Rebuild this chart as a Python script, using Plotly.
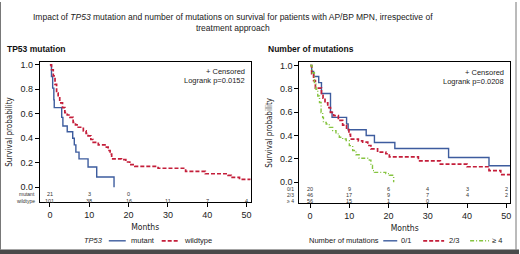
import plotly.graph_objects as go

# ---------------- data ----------------
# Left panel: TP53 mutation
mut_t = [0, 0.4, 0.7, 1.0, 1.1, 3.0, 3.3, 4.4, 5.8, 6.2, 6.6, 7.4, 9.7, 11.9, 16.3]
mut_s = [1.0, 0.905, 0.81, 0.714, 0.65, 0.571, 0.50, 0.453, 0.40, 0.346, 0.287, 0.232, 0.165, 0.084, 0.0]

wt_t = [0, 0.4, 0.85, 1.3, 1.7, 2.1, 2.5, 3.2, 3.8, 4.4, 5.1, 5.9, 6.5, 7.2, 8.5, 9.2, 9.7,
        10.4, 11.0, 12.3, 14.0, 14.8, 15.3, 15.7, 18.2, 19.3, 20.3, 21.6, 27.5, 34.5, 39.5,
        45.3, 46.1, 48.2, 51.0]
wt_s = [1.0, 0.96, 0.91, 0.84, 0.77, 0.73, 0.69, 0.65, 0.61, 0.59, 0.57, 0.53, 0.51, 0.49, 0.46,
        0.44, 0.42, 0.39, 0.367, 0.346, 0.327, 0.30, 0.27, 0.232, 0.225, 0.206, 0.184, 0.17,
        0.155, 0.13, 0.11, 0.097, 0.08, 0.065, 0.06]

# Right panel: number of mutations
m01_t = [0, 0.4, 0.9, 2.2, 2.9, 5.2, 5.6, 9.3, 9.7, 14.3, 16.4, 21.6, 35.3, 45.6, 51.0]
m01_s = [1.0, 0.95, 0.906, 0.853, 0.76, 0.60, 0.556, 0.50, 0.45, 0.40, 0.34, 0.289, 0.212, 0.142, 0.142]

m23_t = [0, 0.4, 0.9, 1.35, 2.9, 3.3, 3.8, 4.5, 5.2, 6.0, 7.2, 8.3, 9.3, 9.9, 10.3, 12.3, 13.4,
         14.7, 15.5, 17.2, 19.3, 20.2, 27.6, 33.2, 40.0, 45.6, 48.6, 51.0]
m23_s = [1.0, 0.93, 0.87, 0.807, 0.76, 0.72, 0.68, 0.64, 0.598, 0.57, 0.53, 0.49, 0.45, 0.41,
         0.37, 0.355, 0.343, 0.315, 0.286, 0.258, 0.244, 0.218, 0.184, 0.156, 0.133, 0.10, 0.065, 0.065]

m4_t = [0, 0.5, 1.1, 1.5, 1.95, 2.4, 2.8, 3.2, 3.4, 4.1, 4.9, 5.75, 6.6, 7.45, 8.3, 9.2, 10.0,
        10.85, 11.7, 12.5, 15.1, 15.5, 15.9, 16.4, 19.3, 20.2, 21.3]
m4_s = [1.0, 0.938, 0.853, 0.796, 0.739, 0.683, 0.598, 0.556, 0.513, 0.499, 0.47, 0.442, 0.414,
        0.386, 0.371, 0.357, 0.314, 0.272, 0.235, 0.205, 0.19, 0.144, 0.10, 0.085, 0.074, 0.06, 0.0]

risk_months = [0, 10, 20, 30, 40, 50]
risk_left_labels = ["mutant", "wildtype"]
risk_left = [["21", "3", "0", "", "", ""],
             ["101", "38", "16", "11", "7", "4"]]
risk_right_labels = ["0/1", "2/3", "\u2265 4"]
risk_right = [["20", "9", "6", "4", "3", "2"],
              ["46", "17", "9", "7", "4", "2"],
              ["56", "15", "1", "0", "", ""]]

y_ticks = [0.0, 0.2, 0.4, 0.6, 0.8, 1.0]
x_ticks = [0, 10, 20, 30, 40, 50]

# ---------------- styling ----------------
BLUE = "#3d5c9e"
RED = "#c41e3a"
GREEN = "#86c440"
RED_DASH = "4px,2px"
GREEN_DASH = "4px,2px,1px,2px"
FONT = "Liberation Sans, Arial, sans-serif"
NARROW = "Liberation Sans Narrow, DejaVu Sans Condensed, Arial Narrow, sans-serif"
W, H = 520, 254


def px_x(p):
    return p / W


def px_y(p):
    return 1 - p / H


series = [
    dict(t=mut_t, s=mut_s, name="mutant", color=BLUE, dash="solid", width=1.4, ax=("x", "y")),
    dict(t=wt_t, s=wt_s, name="wildtype", color=RED, dash=RED_DASH, width=1.7, ax=("x", "y")),
    dict(t=m01_t, s=m01_s, name="0/1", color=BLUE, dash="solid", width=1.4, ax=("x2", "y2")),
    dict(t=m23_t, s=m23_s, name="2/3", color=RED, dash=RED_DASH, width=1.7, ax=("x2", "y2")),
    dict(t=m4_t, s=m4_s, name="\u2265 4", color=GREEN, dash=GREEN_DASH, width=1.4, ax=("x2", "y2")),
]

fig = go.Figure()
for sr in series:
    fig.add_trace(go.Scatter(x=sr["t"], y=sr["s"], mode="lines", name=sr["name"],
                             line=dict(color=sr["color"], width=sr["width"], shape="hv", dash=sr["dash"]),
                             xaxis=sr["ax"][0], yaxis=sr["ax"][1], showlegend=False, hoverinfo="skip"))

axis_common = dict(showline=True, linecolor="black", linewidth=1, mirror=True, ticks="outside",
                   ticklen=4, tickwidth=1, tickcolor="black", showgrid=False, zeroline=False,
                   tickfont=dict(family=FONT, size=9, color="#222"))

xcommon = dict(axis_common, tickvals=x_ticks,
               title=dict(text="Months", font=dict(family=NARROW, size=8.5, color="#222"), standoff=4))
ycommon = dict(axis_common, tickvals=y_ticks, tickformat=".1f",
               title=dict(text="Survival probability", font=dict(family=NARROW, size=8, color="#222"),
                          standoff=6))

fig.update_layout(
    width=W, height=H, autosize=False,
    margin=dict(l=0, r=0, t=0, b=0),
    paper_bgcolor="white", plot_bgcolor="white",
    font=dict(family=FONT, size=8, color="#222"),
    xaxis=dict(xcommon, domain=[px_x(40), px_x(251)], range=[-2.54, 51.0], anchor="y"),
    yaxis=dict(ycommon, domain=[px_y(202), px_y(60)], range=[-0.124, 1.027], anchor="x"),
    xaxis2=dict(xcommon, domain=[px_x(300), px_x(511)], range=[-2.72, 50.96], anchor="y2"),
    yaxis2=dict(ycommon, domain=[px_y(203), px_y(60.7)], range=[-0.181, 1.028], anchor="x2"),
    showlegend=False,
    hovermode=False,
)

ann = []
ann.append(dict(xref="paper", yref="paper", x=px_x(233), y=px_y(21), xanchor="center", yanchor="middle",
                text="Impact of <i>TP53</i> mutation and number of mutations on survival for patients with AP/BP MPN, irrespective of<br>treatment approach",
                showarrow=False, font=dict(family=FONT, size=8.5, color="#222")))
ann.append(dict(xref="paper", yref="paper", x=px_x(5), y=px_y(47), xanchor="left", yanchor="middle",
                text="<b>TP53 mutation</b>", showarrow=False, font=dict(family=FONT, size=8.5, color="#111")))
ann.append(dict(xref="paper", yref="paper", x=px_x(267), y=px_y(47), xanchor="left", yanchor="middle",
                text="<b>Number of mutations</b>", showarrow=False, font=dict(family=FONT, size=8.5, color="#111")))

for xr, yr, pval in [("x domain", "y domain", "0.0152"), ("x2 domain", "y2 domain", "0.0208")]:
    ann.append(dict(xref=xr, yref=yr, x=0.981, y=0.93, xanchor="right", yanchor="middle",
                    text="+ Censored", showarrow=False, font=dict(family=FONT, size=7.5, color="#222")))
    ann.append(dict(xref=xr, yref=yr, x=0.981, y=0.865, xanchor="right", yanchor="middle",
                    text="Logrank p=" + pval, showarrow=False, font=dict(family=FONT, size=7.5, color="#222")))

left_rows_y = [-0.053, -0.112]
for lab, row, yv in zip(risk_left_labels, risk_left, left_rows_y):
    ann.append(dict(xref="x domain", yref="y", x=-0.014, y=yv, xanchor="right", yanchor="middle",
                    text=lab, showarrow=False, font=dict(family=FONT, size=5, color="#333")))
    for m, v in zip(risk_months, row):
        if v:
            ann.append(dict(xref="x", yref="y", x=m, y=yv, xanchor="center", yanchor="middle",
                            text=v, showarrow=False, font=dict(family=FONT, size=5.5, color="#333")))

right_rows_y = [-0.059, -0.107, -0.158]
for lab, row, yv in zip(risk_right_labels, risk_right, right_rows_y):
    ann.append(dict(xref="x2 domain", yref="y2", x=-0.014, y=yv, xanchor="right", yanchor="middle",
                    text=lab, showarrow=False, font=dict(family=FONT, size=5, color="#333")))
    for m, v in zip(risk_months, row):
        if v:
            ann.append(dict(xref="x2", yref="y2", x=m, y=yv, xanchor="center", yanchor="middle",
                            text=v, showarrow=False, font=dict(family=FONT, size=5.5, color="#333")))

# ---- legends (drawn as keys + labels below each panel) ----
LEG_Y = px_y(240.7)
LEG_FONT = dict(family=FONT, size=7.5, color="#222")
ann.append(dict(xref="paper", yref="paper", x=px_x(82), y=LEG_Y, xanchor="left", yanchor="middle",
                text="<i>TP53</i>", showarrow=False, font=LEG_FONT))
ann.append(dict(xref="paper", yref="paper", x=px_x(308), y=LEG_Y, xanchor="left", yanchor="middle",
                text="Number of mutations", showarrow=False, font=LEG_FONT))
# (series index, key start px, key end px, label start px)
legend_layout = [(0, 109, 126, 129), (1, 162, 180, 182),
                 (2, 384, 398, 400), (3, 424, 445, 448), (4, 471, 490, 491)]
shapes = []
for idx, k0, k1, t0 in legend_layout:
    sr = series[idx]
    shapes.append(dict(type="line", xref="paper", yref="paper", x0=px_x(k0), x1=px_x(k1), y0=LEG_Y, y1=LEG_Y,
                       line=dict(color=sr["color"], width=sr["width"], dash=sr["dash"])))
    ann.append(dict(xref="paper", yref="paper", x=px_x(t0), y=LEG_Y, xanchor="left", yanchor="middle",
                    text=sr["name"], showarrow=False, font=LEG_FONT))

fig.update_layout(annotations=ann)

# figure frame
shapes += [
    dict(type="line", xref="paper", yref="paper", x0=px_x(0.5), x1=px_x(0.5), y0=px_y(249.5), y1=1,
         line=dict(color="#777", width=1)),
    dict(type="line", xref="paper", yref="paper", x0=px_x(517), x1=px_x(517), y0=px_y(249.5), y1=1,
         line=dict(color="#777", width=1)),
    dict(type="rect", xref="paper", yref="paper", x0=0, x1=1, y0=0, y1=px_y(249.5),
         line=dict(width=0), fillcolor="#4a4a4a"),
]
fig.update_layout(shapes=shapes)

fig.write_html("out.html", config={"displayModeBar": False, "staticPlot": False},
               post_script="document.body.style.margin='0';document.body.style.overflow='hidden';")
